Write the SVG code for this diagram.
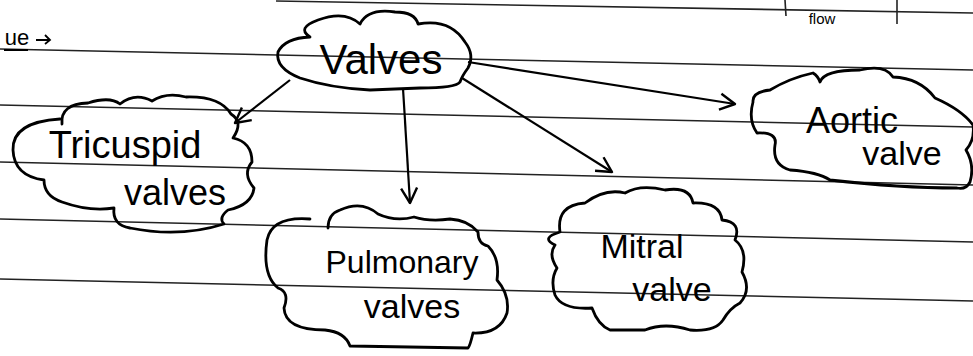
<svg xmlns="http://www.w3.org/2000/svg" width="973" height="356" viewBox="0 0 973 356">
<style>
.rule{stroke:#222;stroke-width:1.6;fill:none}
.cloud{fill:none;stroke:#000;stroke-width:2.8;stroke-linejoin:round;stroke-linecap:round}
.conn{stroke:#000;stroke-width:2.2;fill:none}
text{font-family:"Liberation Sans",Arial,sans-serif;fill:#000;text-anchor:middle}
.big{font-size:42px}
.lbl{font-size:34px}
</style>
<defs>
<marker id="ah" viewBox="0 0 20 20" refX="18" refY="10" markerWidth="20" markerHeight="20" markerUnits="userSpaceOnUse" orient="auto">
<path d="M3,2 L18,10 L3,18" fill="none" stroke="#000" stroke-width="2.4" stroke-linejoin="round"/>
</marker>
</defs>
<rect width="973" height="356" fill="#fff"/>
<g id="rules">
<path class="rule" d="M276,1 L973,13"/>
<path class="rule" d="M0,49 L973,70"/>
<path class="rule" d="M0,105 L973,127"/>
<path class="rule" d="M0,162 L973,185"/>
<path class="rule" d="M0,219 L973,242"/>
<path class="rule" d="M0,279 L973,301"/>
<path class="rule" d="M897,0 L897,24" stroke-width="1"/>
<path class="rule" d="M785,0 L786,16" stroke-width="3"/>
</g>
<g id="fragments">
<text x="822" y="24" style="font-size:15px">flow</text>
<text x="17" y="45" style="font-size:22px">ue</text>
<path d="M4,50 L28,50" stroke="#000" stroke-width="2"/>
<path d="M36,40 L50,40 M45,35 L50,40 L45,44" stroke="#000" stroke-width="1.8" fill="none"/>
</g>
<g id="connectors">
<path class="conn" d="M290,80 L235,123" marker-end="url(#ah)"/>
<path class="conn" d="M403,88 L410,203" marker-end="url(#ah)"/>
<path class="conn" d="M462,78 L612,172" marker-end="url(#ah)"/>
<path class="conn" d="M468,62 L735,104" marker-end="url(#ah)"/>
</g>
<g id="valves">
<path class="cloud" d="M310,37 Q296,28 318,20 Q345,10 360,24 Q368,8 395,12 Q415,12 418,24 Q450,18 465,42 Q475,55 468,68 Q462,76 460,82 Q456,88 420,88 L370,90 Q330,88 300,78 Q275,68 278,52 Q285,38 310,37 Z"/>
<text class="big" x="381" y="74">Valves</text>
</g>
<g id="tricuspid">
<path class="cloud" d="M62,124 Q60,104 88,103 Q110,96 120,104 Q135,92 152,101 Q166,92 186,97 Q220,96 231,114 Q244,122 233,138 Q252,142 252,162 Q242,174 254,188 Q252,205 228,210 Q218,218 224,224 Q180,238 130,228 Q112,225 114,208 Q90,212 62,202 Q44,196 44,180 Q14,176 13,150 Q12,122 60,119"/>
<text class="lbl" x="125" y="158" style="font-size:38px">Tricuspid</text>
<text class="lbl" x="175" y="205" style="font-size:36px">valves</text>
</g>
<g id="pulmonary">
<path class="cloud" d="M310,219 Q272,216 267,240 Q262,275 278,288 Q290,292 284,308 Q285,330 325,330 Q345,332 350,346 L468,348 Q470,346 473,333 Q500,334 507,313 Q510,295 497,280 Q500,258 488,246 Q478,244 478,232 Q468,220 450,219 Q430,222 414,217 Q395,222 378,214 Q362,200 340,210 Q328,214 328,228"/>
<text class="lbl" x="402" y="273" style="font-size:32px">Pulmonary</text>
<text class="lbl" x="412" y="318">valves</text>
</g>
<g id="mitral">
<path class="cloud" d="M560,232 Q556,205 585,203 Q605,188 625,193 Q640,184 665,190 Q690,186 693,203 Q720,202 722,220 Q742,222 735,240 Q748,250 742,272 Q752,290 740,303 Q730,308 723,320 Q715,332 690,330 Q665,322 645,330 L610,330 Q598,325 592,308 Q562,310 555,295 Q550,280 557,268 Q548,255 555,245 Q540,238 560,232 Z"/>
<text class="lbl" x="642" y="258">Mitral</text>
<text class="lbl" x="672" y="301">valve</text>
</g>
<g id="aortic">
<path class="cloud" d="M753,102 Q752,92 770,90 Q790,78 813,73 Q818,76 820,82 Q824,70 860,70 Q885,64 893,77 Q920,78 935,98 Q962,110 973,125 Q975,140 966,150 Q975,165 970,182 Q966,190 957,188 Q900,188 830,180 Q818,172 790,170 Q772,165 775,145 Q778,132 757,133 Q748,120 753,102 Z"/>
<text class="lbl" x="852" y="133" style="font-size:36px">Aortic</text>
<text class="lbl" x="902" y="165">valve</text>
</g>
</svg>
